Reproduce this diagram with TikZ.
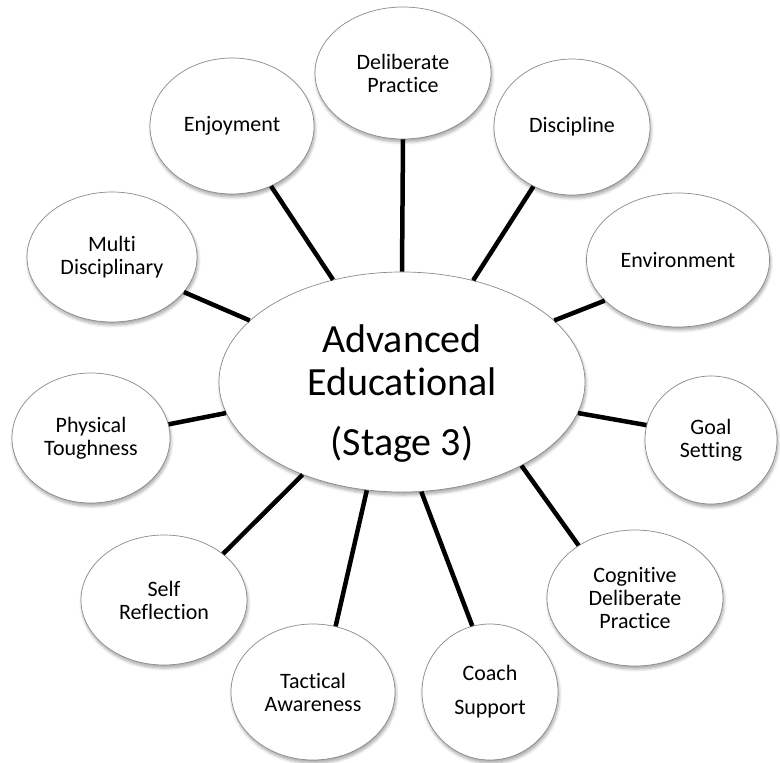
\documentclass[tikz,border=0pt]{standalone}
\usepackage{fontspec}
\setmainfont{Carlito}[Ligatures=NoCommon]
\usetikzlibrary{shapes.geometric,shadows.blur}
\definecolor{bubline}{HTML}{8A8A8A}
\begin{document}
\begin{tikzpicture}[x=1pt,y=-1pt,
  bub/.style={ellipse, draw=bubline, line width=0.7pt, fill=white, inner sep=0pt,
    align=center, font=\fontsize{22}{23}\selectfont,
    blur shadow={shadow xshift=1pt, shadow yshift=-3pt, shadow opacity=35,
      shadow blur radius=3pt, shadow blur steps=6}},
  link/.style={line width=4.5pt, draw=black}]
\useasboundingbox (0,0) rectangle (780,763);

\node[bub, minimum width=366pt, minimum height=220pt, font=\fontsize{40}{43}\selectfont] (C) at (402,382)
  {\raisebox{-20pt}[0pt][0pt]{\begin{tabular}{@{}c@{}}Advanced\\Educational\\[17pt](Stage 3)\end{tabular}}};

\node[bub, minimum width=176pt, minimum height=132pt] (dp) at (403,73) {Deliberate\\Practice};
\node[bub, minimum width=164pt, minimum height=136pt] (enj) at (232,126) {Enjoyment};
\node[bub, minimum width=156pt, minimum height=136pt] (dis) at (572,127) {Discipline};
\node[bub, minimum width=183pt, minimum height=134pt] (env) at (678,260) {Environment};
\node[bub, minimum width=170pt, minimum height=130pt] (mul) at (112,257) {Multi\\Disciplinary};
\node[bub, minimum width=158pt, minimum height=130pt] (phy) at (91,438) {Physical\\Toughness};
\node[bub, minimum width=132pt, minimum height=128pt] (goal) at (711,440) {Goal\\Setting};
\node[bub, minimum width=176pt, minimum height=136pt] (cog) at (635,598) {Cognitive\\Deliberate\\Practice};
\node[bub, minimum width=166pt, minimum height=130pt] (self) at (164,600) {Self\\Reflection};
\node[bub, minimum width=164pt, minimum height=136pt] (tac) at (313,692) {Tactical\\Awareness};
\node[bub, minimum width=136pt, minimum height=136pt] (coach) at (490,692) {Coach\\[11pt]Support};

\draw[link] (C.90) -- (dp.-90);
\draw[link] (C.124.9) -- (enj.-57.4);
\draw[link] (C.55.5) -- (dis.-123);
\draw[link] (C.22) -- (env.-151.6);
\draw[link] (C.158.2) -- (mul.-26);
\draw[link] (C.-170.2) -- (phy.10.8);
\draw[link] (C.-10.4) -- (goal.167.6);
\draw[link] (C.-35.3) -- (cog.137);
\draw[link] (C.-137.2) -- (self.38.4);
\draw[link] (C.-108.1) -- (tac.71.6);
\draw[link] (C.-80.5) -- (coach.105.5);
\end{tikzpicture}
\end{document}
